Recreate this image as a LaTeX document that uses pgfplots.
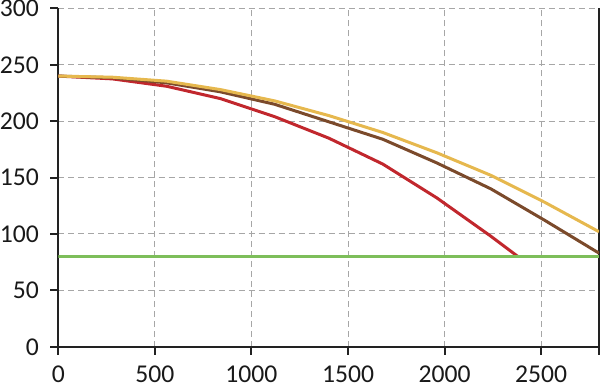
\documentclass[border=0pt]{standalone}
\usepackage{fontspec}
\setmainfont{Carlito}
\usepackage{pgfplots}
\pgfplotsset{compat=1.18}
\definecolor{cred}{HTML}{C1272D}
\definecolor{cbrown}{HTML}{7B4A2B}
\definecolor{cyellow}{HTML}{E6B84E}
\definecolor{cgreen}{HTML}{7DBE5A}
\definecolor{caxis}{HTML}{222222}
\begin{document}
\begin{tikzpicture}
\begin{axis}[
  scale only axis,
  width=270pt, height=169pt,
  xmin=0, xmax=2800, ymin=0, ymax=300,
  axis x line*=bottom,
  axis y line*=box,
  ytick pos=left,
  xtick={0,500,1000,1500,2000,2500,2800},
  xticklabels={0,500,1000,1500,2000,2500,},
  ytick={0,50,...,300},
  tick align=outside,
  major tick length=4pt,
  tick style={caxis, line width=1pt},
  axis line style={caxis, line width=1pt},
  grid=major,
  major grid style={gray!70, line width=0.5pt, dash pattern=on 3pt off 2pt},
  /pgf/number format/assume math mode=true,
  /pgf/number format/1000 sep={},
  ticklabel style={font=\fontsize{12.8}{14}\selectfont, text=black!90, inner sep=0pt},
  xticklabel style={yshift=-5.5pt},
  yticklabel style={xshift=-5.5pt},
  every axis plot/.append style={line width=1.5pt, line join=round},
]
\addplot[cred] coordinates {
(0,240) (280,237.5) (560,231) (840,220) (1120,204) (1400,185) (1680,162) (1960,132) (2240,98) (2380,80)};
\addplot[cbrown] coordinates {
(0,240) (280,238.5) (560,234) (840,226) (1120,215) (1400,199.5) (1680,184) (1960,163) (2240,140) (2520,112) (2800,83)};
\addplot[cyellow] coordinates {
(0,240) (280,239) (560,235.5) (840,228) (1120,218) (1400,205) (1680,190) (1960,172) (2240,152) (2520,128) (2800,102)};
\addplot[cgreen] coordinates {(0,80) (2800,80)};
\end{axis}
\path (current bounding box.south) ++(0,-3pt);
\end{tikzpicture}
\end{document}
